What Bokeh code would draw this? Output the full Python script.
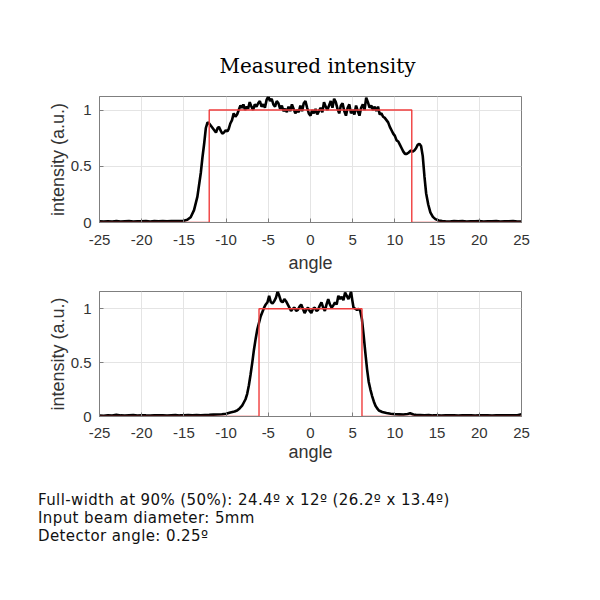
from bokeh.plotting import figure
from bokeh.layouts import column
from bokeh.models import Range1d, FixedTicker, NumeralTickFormatter, Div
from bokeh.embed import file_html
from bokeh.resources import INLINE

# ---------------- data ----------------
top_angle = [-25.0, -24.5, -24.0, -23.5, -23.0, -22.5, -22.0, -21.5, -21.0, -20.5,
             -20.0, -19.5, -19.0, -18.5, -18.0, -17.5, -17.0, -16.5, -16.0, -15.5,
             -15.0, -14.6, -14.2, -13.8, -13.4, -13.0, -12.8, -12.6, -12.4, -12.2,
             -12.0, -11.8, -11.6, -11.4, -11.2, -11.0, -10.85, -10.6, -10.45, -10.25,
             -10.05, -9.85, -9.7, -9.5, -9.3, -9.1, -8.9, -8.7, -8.5, -8.3,
             -8.1, -7.95, -7.75, -7.55, -7.4, -7.2, -7.0, -6.8, -6.6, -6.4,
             -6.2, -6.0, -5.8, -5.6, -5.4, -5.2, -5.0, -4.8, -4.6, -4.4,
             -4.2, -4.0, -3.8, -3.6, -3.4, -3.2, -3.0, -2.8, -2.6, -2.4,
             -2.2, -2.0, -1.8, -1.6, -1.4, -1.2, -1.0, -0.8, -0.6, -0.4,
             -0.2, 0.0, 0.2, 0.4, 0.6, 0.8, 1.0, 1.2, 1.4, 1.6,
             1.8, 2.0, 2.2, 2.4, 2.6, 2.8, 3.0, 3.2, 3.4, 3.6,
             3.8, 4.0, 4.2, 4.4, 4.6, 4.8, 5.0, 5.2, 5.4, 5.6,
             5.8, 6.0, 6.2, 6.4, 6.6, 6.8, 7.0, 7.2, 7.4, 7.6,
             7.8, 8.0, 8.2, 8.4, 8.6, 8.8, 9.0, 9.2, 9.4, 9.6,
             9.8, 10.0, 10.2, 10.4, 10.6, 10.8, 11.0, 11.2, 11.4, 11.6,
             11.9, 12.1, 12.3, 12.5, 12.7, 12.9, 13.1, 13.3, 13.5, 13.7,
             13.95, 14.2, 14.5, 14.8, 15.2, 15.6, 16.0, 16.5, 17.0, 17.5,
             18.0, 18.5, 19.0, 19.5, 20.0, 20.5, 21.0, 21.5, 22.0, 22.5,
             23.0, 23.5, 24.0, 24.5, 25.0]
top_intensity = [0.010, 0.008, 0.011, 0.009, 0.012, 0.008, 0.010, 0.012, 0.009, 0.011,
                 0.010, 0.013, 0.009, 0.012, 0.010, 0.014, 0.011, 0.013, 0.012, 0.014,
                 0.016, 0.024, 0.047, 0.11, 0.23, 0.44, 0.58, 0.70, 0.84, 0.89,
                 0.88, 0.86, 0.84, 0.82, 0.80, 0.84, 0.85, 0.81, 0.79, 0.80,
                 0.82, 0.81, 0.83, 0.88, 0.91, 0.97, 0.94, 0.96, 1.00, 1.04,
                 1.02, 1.05, 1.00, 1.03, 1.01, 1.07, 1.03, 1.00, 1.05, 1.03,
                 1.06, 1.08, 1.03, 1.05, 1.02, 1.09, 1.12, 1.08, 1.10, 1.05,
                 1.03, 1.08, 1.06, 1.01, 1.04, 0.99, 1.01, 0.98, 1.03, 0.99,
                 1.05, 1.01, 0.97, 1.00, 0.98, 1.04, 0.99, 1.06, 1.08, 1.02,
                 0.97, 0.95, 1.00, 0.97, 1.01, 0.96, 0.99, 1.02, 0.98, 1.07,
                 1.03, 1.00, 1.04, 1.08, 1.02, 1.10, 1.07, 1.01, 0.97, 1.04,
                 1.06, 0.99, 0.95, 1.02, 1.05, 0.97, 1.00, 0.96, 1.04, 0.99,
                 0.95, 1.02, 1.05, 1.00, 1.11, 1.07, 1.02, 1.04, 1.00, 1.03,
                 0.99, 1.03, 0.96, 0.97, 0.94, 0.93, 0.91, 0.89, 0.85, 0.82,
                 0.79, 0.77, 0.73, 0.72, 0.69, 0.66, 0.63, 0.61, 0.61, 0.62,
                 0.64, 0.63, 0.64, 0.66, 0.69, 0.70, 0.68, 0.59, 0.41, 0.26,
                 0.16, 0.09, 0.05, 0.03, 0.018, 0.013, 0.011, 0.009, 0.012, 0.010,
                 0.013, 0.009, 0.011, 0.010, 0.012, 0.009, 0.011, 0.010, 0.012, 0.009,
                 0.011, 0.010, 0.012, 0.008, 0.009]
top_ideal_angle = [-25, -12, -12, 12, 12, 25]
top_ideal = [0, 0, 1, 1, 0, 0]

bottom_angle = [-25.0, -24.5, -24.0, -23.5, -23.0, -22.5, -22.0, -21.5, -21.0, -20.5,
                -20.0, -19.5, -19.0, -18.5, -18.0, -17.5, -17.0, -16.5, -16.0, -15.5,
                -15.0, -14.5, -14.0, -13.5, -13.0, -12.5, -12.0, -11.5, -11.0, -10.5,
                -10.0, -9.5, -9.0, -8.7, -8.4, -8.1, -7.9, -7.7, -7.5, -7.3,
                -7.1, -6.9, -6.7, -6.5, -6.3, -6.1, -5.9, -5.7, -5.5, -5.3,
                -5.1, -4.9, -4.7, -4.5, -4.3, -4.1, -3.9, -3.7, -3.5, -3.3,
                -3.1, -2.9, -2.7, -2.5, -2.3, -2.1, -1.9, -1.7, -1.5, -1.3,
                -1.1, -0.9, -0.7, -0.5, -0.3, -0.1, 0.1, 0.3, 0.5, 0.7,
                0.9, 1.1, 1.3, 1.5, 1.7, 1.9, 2.1, 2.3, 2.5, 2.7,
                2.9, 3.1, 3.3, 3.5, 3.7, 3.9, 4.1, 4.3, 4.5, 4.7,
                4.8, 4.95, 5.1, 5.3, 5.5, 5.7, 5.9, 6.1, 6.3, 6.5,
                6.7, 6.9, 7.1, 7.3, 7.5, 7.7, 7.9, 8.1, 8.5, 9.0,
                9.5, 10.0, 10.5, 11.0, 11.5, 11.8, 12.2, 12.5, 13.0, 13.5,
                14.0, 14.5, 15.0, 15.5, 16.0, 16.5, 17.0, 17.5, 18.0, 18.5,
                19.0, 19.5, 20.0, 20.5, 21.0, 21.5, 22.0, 22.5, 23.0, 23.5,
                24.0, 24.5, 25.0]
bottom_intensity = [0.010, 0.007, 0.012, 0.009, 0.016, 0.010, 0.008, 0.011, 0.013, 0.009,
                    0.012, 0.010, 0.009, 0.011, 0.010, 0.012, 0.009, 0.011, 0.013, 0.010,
                    0.012, 0.014, 0.011, 0.013, 0.012, 0.014, 0.015, 0.017, 0.018, 0.021,
                    0.026, 0.038, 0.046, 0.055, 0.075, 0.10, 0.13, 0.16, 0.21, 0.29,
                    0.39, 0.50, 0.62, 0.72, 0.81, 0.87, 0.93, 0.97, 1.01, 1.04,
                    1.06, 1.12, 1.06, 1.05, 1.07, 1.10, 1.16, 1.12, 1.07, 1.06,
                    1.09, 1.07, 1.04, 1.01, 0.98, 1.00, 1.01, 0.98, 0.99, 1.02,
                    1.04, 1.00, 0.96, 0.99, 1.01, 0.98, 0.96, 1.00, 1.01, 0.98,
                    0.99, 1.03, 1.06, 1.01, 0.98, 1.04, 1.09, 1.04, 1.01, 1.03,
                    1.06, 1.04, 1.12, 1.09, 1.11, 1.08, 1.15, 1.12, 1.09, 1.13,
                    1.16, 1.08, 1.01, 1.00, 0.99, 1.00, 0.98, 0.90, 0.75, 0.59,
                    0.44, 0.32, 0.25, 0.19, 0.14, 0.10, 0.075, 0.055, 0.042, 0.032,
                    0.026, 0.022, 0.020, 0.018, 0.024, 0.030, 0.018, 0.015, 0.014, 0.012,
                    0.013, 0.010, 0.012, 0.009, 0.011, 0.010, 0.012, 0.009, 0.011, 0.010,
                    0.012, 0.009, 0.011, 0.010, 0.012, 0.009, 0.011, 0.010, 0.012, 0.010,
                    0.011, 0.012, 0.020]
bottom_ideal_angle = [-25, -6.1, -6.1, 6.1, 6.1, 25]
bottom_ideal = [0, 0, 1, 1, 0, 0]

x_ticks = [-25, -20, -15, -10, -5, 0, 5, 10, 15, 20, 25]
y_ticks = [0, 0.5, 1]
top_ymax = 1.12
bottom_ymax = 1.16

title_text = "Measured intensity"
notes = ["Full-width at 90% (50%): 24.4º x 12º (26.2º x 13.4º)",
         "Input beam diameter: 5mm",
         "Detector angle: 0.25º"]

AXIS_COLOR = "#7f7f7f"
LABEL_COLOR = "#333333"
GRID_COLOR = "#e4e4e4"


def make_panel(xs, ys, ideal_x, ideal_y, ymax, border_top, border_bottom, frame_h,
               tick_standoff, label_standoff):
    p = figure(frame_width=422, frame_height=frame_h,
               x_range=Range1d(-25, 25), y_range=Range1d(0, ymax),
               min_border_left=99, min_border_right=63,
               min_border_top=border_top, min_border_bottom=border_bottom,
               output_backend="svg", toolbar_location=None,
               background_fill_color="white", border_fill_color="white")
    p.outline_line_color = AXIS_COLOR
    p.outline_line_alpha = 1.0
    p.outline_line_width = 1
    for ax in (p.xaxis[0], p.yaxis[0]):
        ax.axis_line_color = AXIS_COLOR
        ax.major_tick_line_color = AXIS_COLOR
        ax.major_tick_in = 4
        ax.major_tick_out = 0
        ax.minor_tick_line_color = None
        ax.major_label_text_font = "Liberation Sans"
        ax.major_label_text_font_size = "15px"
        ax.major_label_text_color = LABEL_COLOR
        ax.axis_label_text_font = "Liberation Sans"
        ax.axis_label_text_font_size = "18px"
        ax.axis_label_text_font_style = "normal"
        ax.axis_label_text_color = LABEL_COLOR
    p.xaxis.ticker = FixedTicker(ticks=x_ticks)
    p.yaxis.ticker = FixedTicker(ticks=y_ticks)
    p.xaxis.formatter = NumeralTickFormatter(format="0")
    p.yaxis.formatter = NumeralTickFormatter(format="0.[0]")
    p.xaxis.axis_label = "angle"
    p.yaxis.axis_label = "intensity (a.u.)"
    p.xaxis.major_label_standoff = tick_standoff
    p.xaxis.axis_label_standoff = label_standoff
    p.yaxis.major_label_standoff = 8
    p.yaxis.axis_label_standoff = 0
    p.xgrid.grid_line_color = GRID_COLOR
    p.ygrid.grid_line_color = GRID_COLOR
    p.line(xs, ys, line_color="black", line_width=2.6)
    p.line(ideal_x, ideal_y, line_color="#f03c3c", line_width=1.4)
    return p


p1 = make_panel(top_angle, top_intensity, top_ideal_angle, top_ideal, top_ymax,
                96, 55, 126, 12, 5)
p1.title.text = title_text
p1.title.text_font = "DejaVu Serif"
p1.title.text_font_size = "20px"
p1.title.text_font_style = "normal"
p1.title.text_color = "black"
p1.title.align = "left"
p1.title.offset = 120
p1.title.standoff = 38

p2 = make_panel(bottom_angle, bottom_intensity, bottom_ideal_angle, bottom_ideal, bottom_ymax,
                14, 53, 125, 11, 1)

notes_div = Div(text="<br>".join(notes), width=584, height=90, margin=(0, 0, 0, 0),
                styles={"font-family": "'DejaVu Sans'", "font-size": "15px",
                        "letter-spacing": "0.4px",
                        "line-height": "18px", "color": "#111111",
                        "padding-left": "38px", "padding-top": "22px",
                        "white-space": "nowrap"})

layout = column(p1, p2, notes_div, spacing=0)
open("out.html", "w").write(file_html(layout, INLINE))
